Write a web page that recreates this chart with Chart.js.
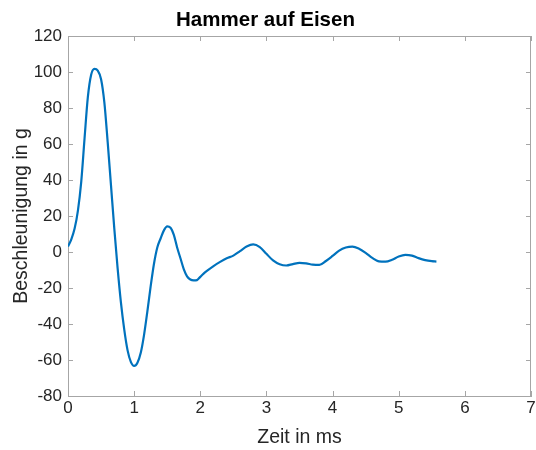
<!DOCTYPE html>
<html>
<head>
<meta charset="utf-8">
<script src="https://cdn.jsdelivr.net/npm/chart.js@4"></script>
<style>
  html, body { margin: 0; padding: 0; background: #ffffff; }
  #wrap { width: 536px; height: 450px; }
</style>
</head>
<body>
<div id="wrap"><canvas id="c" width="536" height="450"></canvas></div>
<script>
// Beschleunigungsverlauf: Zeit in ms, Beschleunigung in g
const zeitMs = [
  0.00, 0.05, 0.10, 0.15, 0.20, 0.25, 0.30, 0.35, 0.40, 0.45,
  0.50, 0.55, 0.60, 0.65, 0.70, 0.75, 0.80, 0.85, 0.90, 0.95,
  1.00, 1.05, 1.10, 1.15, 1.20, 1.25, 1.30, 1.35, 1.40, 1.45,
  1.50, 1.55, 1.60, 1.65, 1.70, 1.75, 1.80, 1.85, 1.90, 1.95,
  2.00, 2.05, 2.10, 2.20, 2.30, 2.40, 2.50, 2.60, 2.70, 2.80,
  2.90, 3.00, 3.10, 3.20, 3.30, 3.40, 3.50, 3.60, 3.70, 3.80,
  3.90, 4.00, 4.10, 4.20, 4.30, 4.40, 4.50, 4.60, 4.70, 4.80,
  4.90, 5.00, 5.10, 5.20, 5.30, 5.40, 5.50, 5.57
];
const beschleunigungG = [
  3.0, 7.0, 13.0, 23.0, 39.0, 63.0, 86.0, 98.5, 101.7, 100.8,
  96.0, 83.0, 61.0, 37.0, 13.0, -9.0, -28.0, -43.0, -54.5, -61.0,
  -63.3, -61.5, -56.0, -46.0, -33.0, -19.0, -6.5, 2.5, 7.5, 12.0,
  14.2, 13.5, 9.5, 2.5, -3.5, -9.5, -13.5, -15.3, -15.8, -15.6,
  -13.8, -12.0, -10.5, -7.8, -5.5, -3.5, -2.0, 0.5, 3.0, 4.2,
  2.7, -1.0, -4.7, -6.8, -7.5, -6.7, -6.0, -6.3, -7.0, -7.2,
  -5.0, -2.2, 0.8, 2.5, 3.0, 1.8, -0.5, -3.3, -5.2, -5.4,
  -4.3, -2.5, -1.6, -2.0, -3.4, -4.5, -5.1, -5.3
];
const xTicks = [0, 1, 2, 3, 4, 5, 6, 7];
const yTicks = [-80, -60, -40, -20, 0, 20, 40, 60, 80, 100, 120];

const points = zeitMs.map((t, i) => ({ x: t, y: beschleunigungG[i] }));

const boxColor = '#a6a6a6';
const textColor = '#262626';
const fontFamily = '"Liberation Sans", Arial, Helvetica, sans-serif';

// Rahmen oben/rechts und nach innen zeigende Tick-Striche auf allen vier Seiten
const innerTicks = {
  id: 'innerTicks',
  afterDatasetsDraw(chart) {
    const { ctx, chartArea: a, scales } = chart;
    const len = 5;
    ctx.save();
    ctx.strokeStyle = boxColor;
    ctx.lineWidth = 1;
    ctx.beginPath();
    ctx.moveTo(a.left, a.top + 0.5);
    ctx.lineTo(a.right, a.top + 0.5);
    ctx.moveTo(a.right - 0.5, a.top);
    ctx.lineTo(a.right - 0.5, a.bottom);
    xTicks.forEach(v => {
      const px = Math.round(scales.x.getPixelForValue(v)) + 0.5;
      ctx.moveTo(px, a.bottom);
      ctx.lineTo(px, a.bottom - len);
      ctx.moveTo(px, a.top);
      ctx.lineTo(px, a.top + len);
    });
    yTicks.forEach(v => {
      const py = Math.round(scales.y.getPixelForValue(v)) + 0.5;
      ctx.moveTo(a.left, py);
      ctx.lineTo(a.left + len, py);
      ctx.moveTo(a.right, py);
      ctx.lineTo(a.right - len, py);
    });
    ctx.stroke();
    ctx.restore();
  }
};

new Chart(document.getElementById('c'), {
  type: 'line',
  data: {
    datasets: [{
      data: points,
      borderColor: '#0072BD',
      borderWidth: 2.2,
      pointRadius: 0,
      fill: false,
      cubicInterpolationMode: 'monotone'
    }]
  },
  options: {
    responsive: false,
    animation: false,
    layout: { padding: { left: 0, right: 5, top: 0, bottom: 0 } },
    plugins: {
      legend: { display: false },
      tooltip: { enabled: false },
      title: {
        display: true,
        text: 'Hammer auf Eisen',
        color: '#000000',
        font: { family: fontFamily, size: 20.5, weight: 'bold' },
        padding: { top: 8, bottom: 3.4 }
      }
    },
    scales: {
      x: {
        type: 'linear',
        min: 0,
        max: 7,
        afterFit(s) { s.height = 54; s.paddingRight = 0; s.paddingLeft = 0; },
        afterBuildTicks(s) { s.ticks = xTicks.map(v => ({ value: v })); },
        ticks: {
          color: textColor,
          font: { family: fontFamily, size: 17 },
          padding: 2,
          maxRotation: 0
        },
        grid: { drawOnChartArea: false, drawTicks: false },
        border: { display: true, color: boxColor, width: 1 },
        title: {
          display: true,
          text: 'Zeit in ms',
          color: textColor,
          font: { family: fontFamily, size: 19.5 },
          padding: { top: 0, bottom: 1 }
        }
      },
      y: {
        type: 'linear',
        min: -80,
        max: 120,
        afterFit(s) { s.width = 68; },
        afterBuildTicks(s) { s.ticks = yTicks.map(v => ({ value: v })); },
        ticks: {
          color: textColor,
          font: { family: fontFamily, size: 17 },
          padding: 6
        },
        grid: { drawOnChartArea: false, drawTicks: false },
        border: { display: true, color: boxColor, width: 1 },
        title: {
          display: true,
          text: 'Beschleunigung in g',
          color: textColor,
          font: { family: fontFamily, size: 19.5 },
          padding: { top: 10, bottom: 0 }
        }
      }
    }
  },
  plugins: [innerTicks]
});
</script>
</body>
</html>
